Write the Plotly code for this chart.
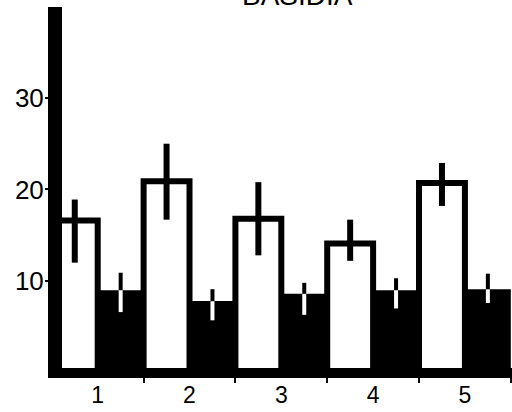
import plotly.graph_objects as go

categories = [1, 2, 3, 4, 5]
tick_labels = ["1", "2", "3", "4", "5"]
white_values = [16.6, 20.9, 16.8, 14.1, 20.7]
white_err_top = [18.9, 25.0, 20.8, 16.7, 22.9]
white_err_bottom = [12.0, 16.7, 12.8, 12.2, 18.2]
black_values = [9.0, 7.8, 8.6, 9.0, 9.1]
black_err_top = [10.9, 9.1, 9.8, 10.3, 10.8]
black_err_bottom = [6.6, 5.7, 6.3, 7.0, 7.6]
title_text = "BASIDIA"

xw = [c - 0.25 for c in categories]
xb = [c + 0.25 for c in categories]

fig = go.Figure()

# black bars
fig.add_trace(go.Bar(
    x=xb, y=black_values, width=0.5,
    marker=dict(color="black", line=dict(color="black", width=0)),
    error_y=dict(type="data", symmetric=False,
                 array=[0] * 5,
                 arrayminus=[v - b for v, b in zip(black_values, black_err_bottom)],
                 color="white", thickness=4, width=0),
    showlegend=False,
))
# upper part of black-bar error bars (black on white)
fig.add_trace(go.Scatter(
    x=xb, y=black_values, mode="markers",
    marker=dict(size=1, color="rgba(0,0,0,0)"),
    error_y=dict(type="data", symmetric=False,
                 array=[t - v for t, v in zip(black_err_top, black_values)],
                 arrayminus=[0] * 5,
                 color="black", thickness=4, width=0),
    showlegend=False, hoverinfo="skip",
))
# white bars
fig.add_trace(go.Bar(
    x=xw, y=white_values, width=0.5,
    marker=dict(color="white", line=dict(color="black", width=6)),
    error_y=dict(type="data", symmetric=False,
                 array=[t - v for t, v in zip(white_err_top, white_values)],
                 arrayminus=[v - b for v, b in zip(white_values, white_err_bottom)],
                 color="black", thickness=6, width=0),
    showlegend=False,
))

fig.add_annotation(
    text=title_text, xref="paper", yref="paper", x=0.524, y=1, yshift=-6,
    xanchor="center", yanchor="bottom", showarrow=False,
    font=dict(family="Liberation Sans", size=28, color="black"),
)

fig.update_layout(
    width=512, height=412,
    margin=dict(l=62, r=0, t=7, b=44, autoexpand=False),
    paper_bgcolor="white", plot_bgcolor="white",
    barmode="overlay",
    font=dict(family="Liberation Sans", color="black"),
    xaxis=dict(
        range=[0.611, 5.513],
        tickvals=categories, ticktext=tick_labels,
        ticks="", showgrid=False, zeroline=False,
        showline=True, linecolor="black", linewidth=10,
        tickfont=dict(size=23, color="black"),
        ticklabelstandoff=-3,
        automargin=False,
        minor=dict(tick0=0.5, dtick=1, ticks="outside", ticklen=5,
                   tickwidth=2, tickcolor="black", showgrid=False),
    ),
    yaxis=dict(
        range=[0.49, 39.94],
        tickvals=[10, 20, 30], ticktext=["10", "20", "30"],
        ticks="outside", ticklen=3, tickwidth=2, tickcolor="black",
        ticklabelstandoff=-4,
        showgrid=False, zeroline=False, automargin=False,
        showline=True, linecolor="black", linewidth=14,
        tickfont=dict(size=26, color="black"),
    ),
)

fig.write_html(
    "out.html",
    config={"displayModeBar": False},
    post_script="document.body.style.margin='0';document.body.style.overflow='hidden';",
)
